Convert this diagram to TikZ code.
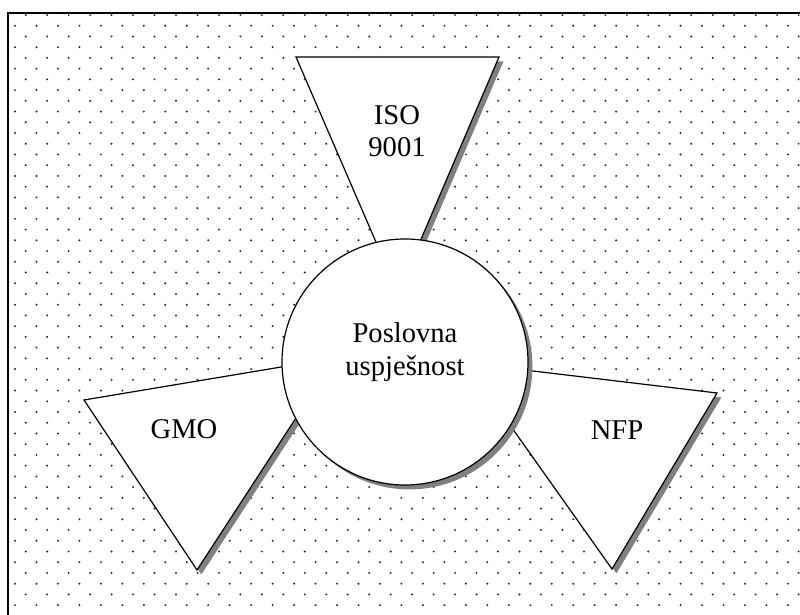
\documentclass[tikz,border=0pt]{standalone}
\usepackage{fontspec}
\setmainfont{Liberation Serif}
\usepackage{tikz}
\usetikzlibrary{shadows}

\tikzset{
  dot/.style={fill=black!85},
  drop/.style={drop shadow={shadow xshift=2.2pt,shadow yshift=-2.2pt,fill=black!50,opacity=1}},
  wedge/.style={draw,fill=white,line width=0.6pt,line join=miter,drop},
  hub/.style={circle,draw,fill=white,line width=0.6pt,minimum size=123pt,inner sep=0pt,drop},
  word/.style={align=center,font=\fontsize{14.3}{16.2}\selectfont}
}

\begin{document}
\begin{tikzpicture}[x=0.5pt,y=-0.5pt]
\useasboundingbox (0,0) rectangle (800,615);
\clip (0,0) rectangle (800,615);
\fill[white] (0,0) rectangle (800,615);
\foreach \r in {0,...,55} {
  \pgfmathsetmacro\yy{15+10.73*\r}
  \pgfmathsetmacro\xo{mod(\r,2)==0 ? 25.7 : 15}
  \foreach \c in {0,...,36}
    \fill[dot] (\xo+21.47*\c,\yy) circle[radius=1.1];
}
\draw[line width=0.8pt] (8,13) rectangle (810,625);
\draw[wedge] (296,57) -- (499,57) -- (398,293) -- cycle;
\draw[wedge] (84,400) -- (335,358) -- (197,570) -- cycle;
\draw[wedge] (466,363) -- (717,393) -- (612,569) -- cycle;
\node[hub] (core) at (405,362) {};
\node[word] (goal) at (405,352) {Poslovna\\uspješnost};
\node[word] (iso) at (397,131) {ISO\\9001};
\node[word] (gmo) at (184,429) {GMO};
\node[word] (nfp) at (617,430) {NFP};
\end{tikzpicture}
\end{document}
